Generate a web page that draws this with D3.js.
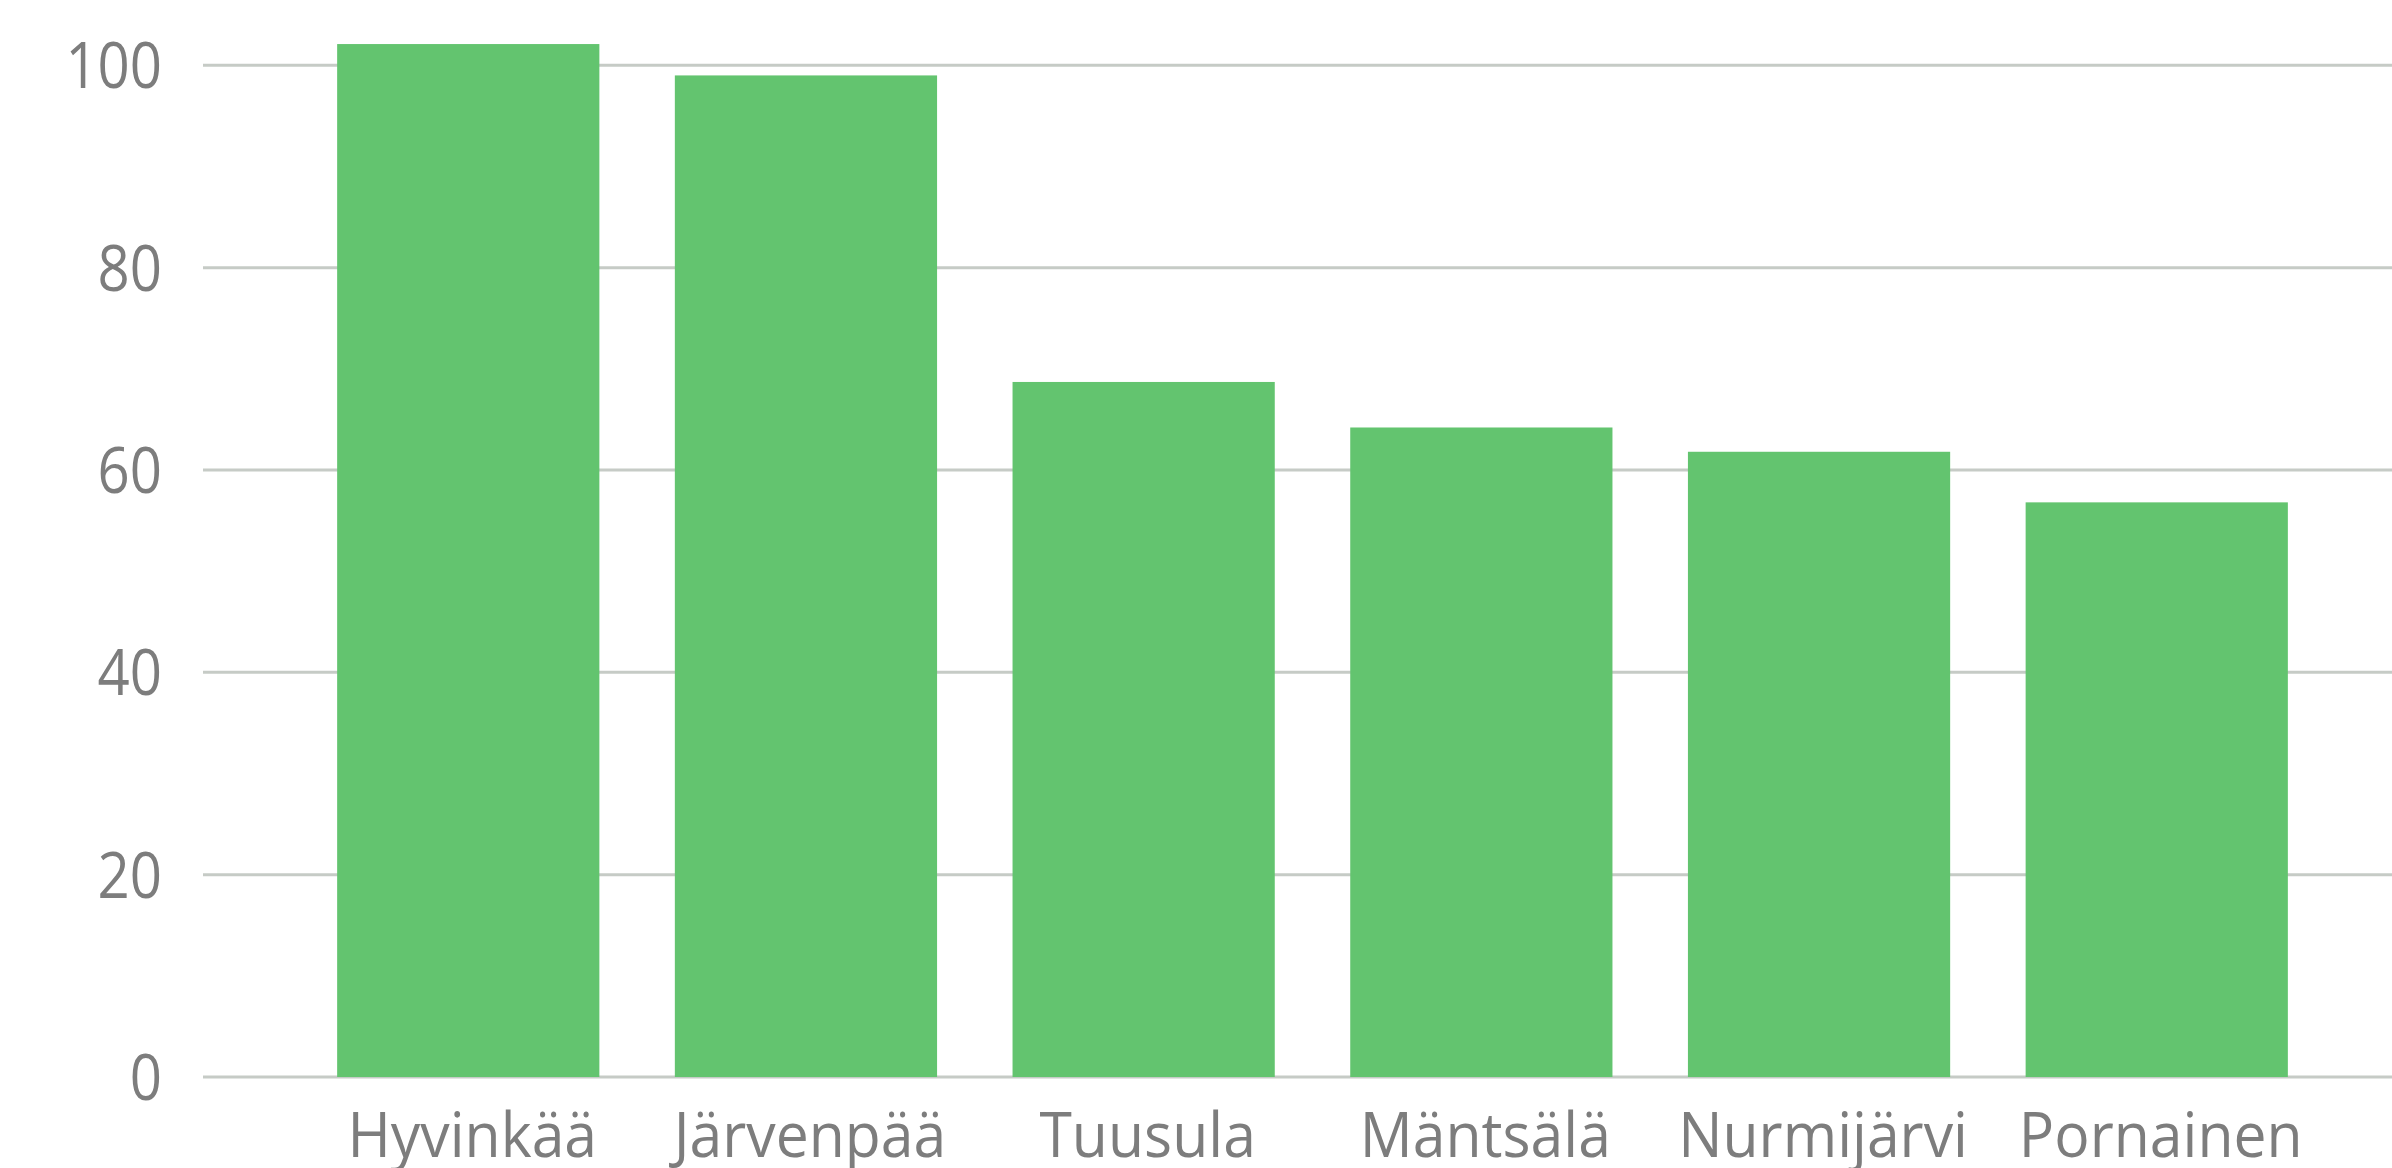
<!DOCTYPE html>
<html>
<head>
<meta charset="utf-8">
<script src="https://cdn.jsdelivr.net/npm/d3@7"></script>
<style>
  body { margin: 0; background: #fff; }
  text { font-family: "Open Sans", "Noto Sans", sans-serif; fill: #7d7d7d; font-weight: 400; }
</style>
</head>
<body>
<script>
// municipalities and their values
var categories = ["Hyvinkää", "Järvenpää", "Tuusula", "Mäntsälä", "Nurmijärvi", "Pornainen"];
var values = [102.1, 99.0, 68.7, 64.2, 61.8, 56.8];
var yTicks = [0, 20, 40, 60, 80, 100];

var width = 2392,
    height = 1168;

var svg = d3.select("body")
            .append("svg")
            .attr("width", width)
            .attr("height", height);

var x = d3.scaleBand()
    .domain(categories)
    .range([300, 2325])
    .paddingInner(0.2235)
    .paddingOuter(0.11);

var y = d3.scaleLinear()
    .domain([0, 100])
    .range([1077, 65.3]);

// gridlines
svg.append("g")
    .selectAll("line")
    .data(yTicks)
  .enter().append("line")
    .attr("x1", 203)
    .attr("x2", width)
    .attr("y1", function(d) { return y(d); })
    .attr("y2", function(d) { return y(d); })
    .style("stroke", "#c6cbc6")
    .style("stroke-width", 3);

// y labels (slightly condensed, like the original font)
svg.append("g")
    .selectAll("text")
    .data(yTicks)
  .enter().append("text")
    .attr("transform", function(d) { return "translate(162," + y(d) + ") scale(0.88,1)"; })
    .attr("dy", "0.36em")
    .style("text-anchor", "end")
    .style("font-size", "64px")
    .text(function(d) { return d; });

// bars
svg.append("g")
    .selectAll("rect")
    .data(values)
  .enter().append("rect")
    .attr("x", function(d, i) { return x(categories[i]); })
    .attr("width", x.bandwidth())
    .attr("y", function(d) { return y(d); })
    .attr("height", function(d) { return y(0) - y(d); })
    .style("fill", "#63c46f");

// x labels
svg.append("g")
    .selectAll("text")
    .data(categories)
  .enter().append("text")
    .attr("transform", function(d) { return "translate(" + (x(d) + x.bandwidth() / 2 + 4) + ",1157) scale(0.95,1)"; })
    .style("text-anchor", "middle")
    .style("font-size", "62px")
    .text(function(d) { return d; });
</script>
</body>
</html>
